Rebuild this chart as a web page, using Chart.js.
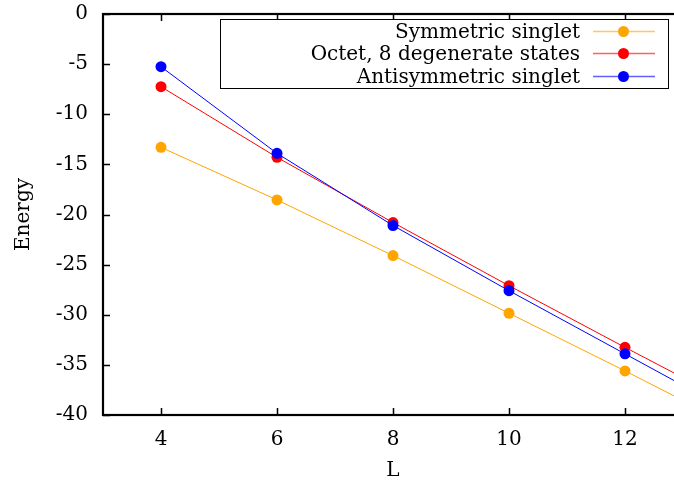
<!DOCTYPE html>
<html>
<head>
<meta charset="utf-8">
<script src="https://cdn.jsdelivr.net/npm/chart.js@4/dist/chart.umd.min.js"></script>
<style>
  html, body { margin: 0; padding: 0; background: #fff; overflow: hidden; }
  #wrap { width: 700px; height: 485px; }
</style>
</head>
<body>
<div id="wrap"><canvas id="chart" width="700" height="485"></canvas></div>
<script>
// ── data ──
const sizes = [4, 6, 8, 10, 12, 14];          // L (14 lies past the right edge, only its line shows)
const symmetricSinglet = [-13.3, -18.55, -24.1, -29.85, -35.6, -41.5];
const octetStates = [-7.25, -14.3, -20.8, -27.1, -33.25, -39.3];
const antisymmetricSinglet = [-5.26, -13.9, -21.1, -27.6, -33.9, -40.2];
const xTicks = [4, 6, 8, 10, 12];
const yTicks = [-40, -35, -30, -25, -20, -15, -10, -5, 0];

const seriesNames = ['Symmetric singlet', 'Octet, 8 degenerate states', 'Antisymmetric singlet'];
const seriesColors = ['#ffa500', '#ff0000', '#0000ff'];
const legendColors = ['#ffc85a', '#ff6060', '#6060ff'];

const FONT = "'DejaVu Serif', 'Liberation Serif', serif";
const FSIZE = 20;

function pts(ys) {
    return sizes.map(function (x, i) { return { x: x, y: ys[i] }; });
}

function makeSet(i, ys, order) {
    return {
        label: seriesNames[i],
        data: pts(ys),
        borderColor: seriesColors[i],
        backgroundColor: seriesColors[i],
        borderWidth: 1,
        pointRadius: 5.5,
        pointBorderWidth: 0,
        pointHoverRadius: 5.5,
        tension: 0,
        order: order
    };
}

// gnuplot-like frame, inward ticks (mirrored) and boxed legend
const framePlugin = {
    id: 'frame',
    afterDraw: function (chart) {
        const ctx = chart.ctx;
        const a = chart.chartArea;
        const xs = chart.scales.x, ys = chart.scales.y;
        ctx.save();
        ctx.strokeStyle = '#000';
        ctx.lineWidth = 1.5;
        ctx.beginPath();
        xTicks.forEach(function (v) {
            const px = Math.round(xs.getPixelForValue(v)) + 0.5;
            ctx.moveTo(px, a.bottom); ctx.lineTo(px, a.bottom - 7);
            ctx.moveTo(px, a.top); ctx.lineTo(px, a.top + 7);
        });
        yTicks.forEach(function (v) {
            const py = Math.round(ys.getPixelForValue(v)) + 0.5;
            ctx.moveTo(a.left, py); ctx.lineTo(a.left + 7, py);
            ctx.moveTo(a.right, py); ctx.lineTo(a.right - 7, py);
        });
        ctx.stroke();
        ctx.lineWidth = 2.2;
        ctx.strokeRect(a.left, a.top, a.right - a.left, a.bottom - a.top);

        // legend
        ctx.fillStyle = '#fff';
        ctx.fillRect(220.5, 19.5, 448, 69);
        ctx.strokeStyle = '#000';
        ctx.lineWidth = 1;
        ctx.strokeRect(220.5, 19.5, 448, 69);
        ctx.font = '20px ' + FONT;
        ctx.textAlign = 'right';
        ctx.textBaseline = 'middle';
        const rows = [31.5, 53.5, 76.5];
        for (let i = 0; i < 3; i++) {
            ctx.fillStyle = '#000';
            ctx.fillText(seriesNames[i], 580, rows[i] + 1);
            ctx.strokeStyle = legendColors[i];
            ctx.lineWidth = 1.5;
            ctx.beginPath();
            ctx.moveTo(593, rows[i]); ctx.lineTo(655, rows[i]);
            ctx.stroke();
            ctx.fillStyle = seriesColors[i];
            ctx.beginPath();
            ctx.arc(623.5, rows[i], 5.5, 0, Math.PI * 2);
            ctx.fill();
        }
        ctx.restore();
    }
};

new Chart(document.getElementById('chart'), {
    type: 'line',
    data: {
        datasets: [
            makeSet(0, symmetricSinglet, 3),
            makeSet(1, octetStates, 2),
            makeSet(2, antisymmetricSinglet, 1)
        ]
    },
    options: {
        responsive: false,
        animation: false,
        events: [],
        layout: { padding: { top: 14, right: 17, bottom: 0, left: 0 } },
        plugins: { legend: { display: false }, tooltip: { enabled: false } },
        scales: {
            x: {
                type: 'linear',
                min: 3,
                max: 13,
                afterBuildTicks: function (s) { s.ticks = xTicks.map(function (v) { return { value: v }; }); },
                afterFit: function (s) { s.height = 70; s.paddingLeft = 0; s.paddingRight = 0; },
                grid: { display: false, drawTicks: false },
                border: { display: false },
                ticks: { color: '#000', padding: 13, maxRotation: 0, font: { family: FONT, size: FSIZE } },
                title: { display: true, text: 'L', color: '#000', padding: { top: 0, bottom: 2 }, font: { family: FONT, size: FSIZE } }
            },
            y: {
                min: -40,
                max: 0,
                afterBuildTicks: function (s) { s.ticks = yTicks.map(function (v) { return { value: v }; }); },
                afterFit: function (s) { s.width = 103; s.paddingTop = 0; s.paddingBottom = 0; },
                grid: { display: false, drawTicks: false },
                border: { display: false },
                ticks: { color: '#000', padding: 15, font: { family: FONT, size: FSIZE } },
                title: { display: true, text: 'Energy', color: '#000', padding: { top: 12, bottom: 0 }, font: { family: FONT, size: FSIZE } }
            }
        }
    },
    plugins: [framePlugin]
});
</script>
</body>
</html>
